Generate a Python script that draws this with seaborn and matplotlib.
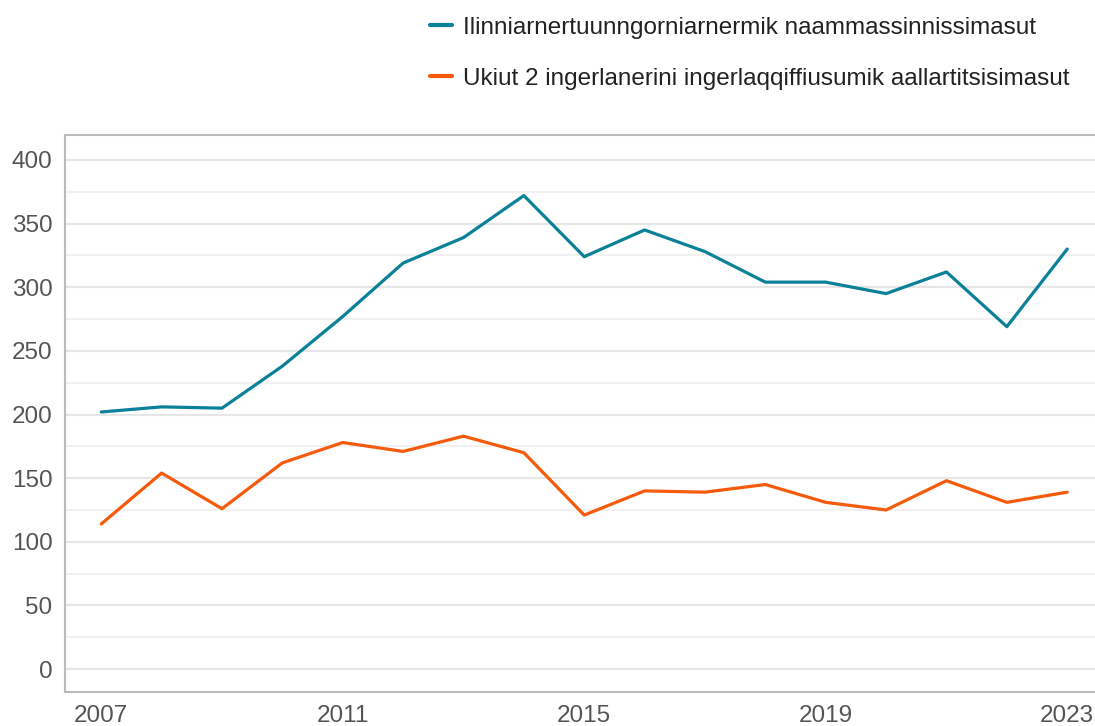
import numpy as np
import pandas as pd
import matplotlib
matplotlib.use("Agg")
import matplotlib.pyplot as plt
import seaborn as sns
from matplotlib.lines import Line2D

years = list(range(2007, 2024))
series_a_name = "Ilinniarnertuunngorniarnermik naammassinnissimasut"
series_b_name = "Ukiut 2 ingerlanerini ingerlaqqiffiusumik aallartitsisimasut"
series_a = [202, 206, 205, 238, 277, 319, 339, 372, 324, 345, 328, 304, 304, 295, 312, 269, 330]
series_b = [114, 154, 126, 162, 178, 171, 183, 170, 121, 140, 139, 145, 131, 125, 148, 131, 139]
x_ticks = [2007, 2011, 2015, 2019, 2023]
y_ticks = [0, 50, 100, 150, 200, 250, 300, 350, 400]

df = pd.DataFrame({
    "year": years * 2,
    "value": series_a + series_b,
    "series": [series_a_name] * len(years) + [series_b_name] * len(years),
})

sns.set_theme(style="white")
plt.rcParams["font.family"] = ["Liberation Sans", "DejaVu Sans"]

fig = plt.figure(figsize=(10.95, 7.26), dpi=100)
ax = fig.add_axes([65 / 1095, 1 - 692 / 726, 1 - 65 / 1095, (692 - 135) / 726])

palette = {series_a_name: "#0a8199", series_b_name: "#f65b0c"}
sns.lineplot(data=df, x="year", y="value", hue="series", palette=palette,
             linewidth=2.3, ax=ax, legend=False)

ax.set_xlim(2006.40, 2023.46)
ax.set_ylim(-18, 419.6)
ax.set_xticks(x_ticks)
ax.set_xticklabels([str(t) for t in x_ticks])
ax.set_yticks(y_ticks)
ax.set_yticks(np.arange(25, 400, 50), minor=True)
ax.set_xlabel("")
ax.set_ylabel("")
ax.tick_params(axis="both", which="both", length=0, labelsize=17.5, colors="#555555")
ax.tick_params(axis="y", pad=9)
ax.tick_params(axis="x", pad=9.5)
ax.grid(axis="y", which="major", color="#e6e6e6", linewidth=1.6)
ax.grid(axis="y", which="minor", color="#ededed", linewidth=1.1)
ax.grid(axis="x", visible=False)
ax.set_axisbelow(True)
for s in ["left", "top", "bottom"]:
    ax.spines[s].set_color("#bbbbbb")
    ax.spines[s].set_linewidth(1.5)
ax.spines["right"].set_visible(False)

handles = [Line2D([0], [0], color=palette[series_a_name], lw=3),
           Line2D([0], [0], color=palette[series_b_name], lw=3)]
fig.legend(handles, [series_a_name, series_b_name], loc="upper left",
           bbox_to_anchor=(408 / 1095, 1 + 5 / 726), frameon=False,
           fontsize=17.5, labelspacing=1.18, handlelength=0.9,
           handletextpad=0.45, borderpad=0.4, labelcolor="#222222")

fig.savefig("out.png", dpi=100)
